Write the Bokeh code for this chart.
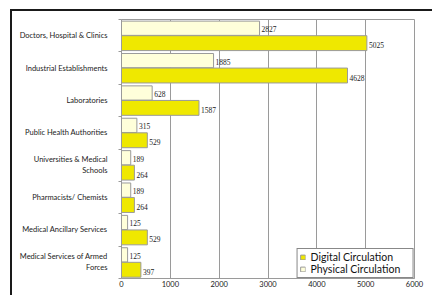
import numpy as np
from bokeh.plotting import figure
from bokeh.models import (ColumnDataSource, FixedTicker, Range1d,
                          Legend, LegendItem, LabelSet)
from bokeh.embed import file_html
from bokeh.resources import INLINE

categories = ["Doctors, Hospital & Clinics", "Industrial Establishments", "Laboratories",
              "Public Health Authorities", "Universities & Medical\nSchools",
              "Pharmacists/ Chemists", "Medical Ancillary Services",
              "Medical Services of Armed\nForces"]
physical = [2827, 1885, 628, 315, 189, 189, 125, 125]
digital = [5025, 4628, 1587, 529, 264, 264, 529, 397]
x_ticks = [0, 1000, 2000, 3000, 4000, 5000, 6000]

n = len(categories)
idx = np.arange(n)
centers = n - idx - 0.5
src = ColumnDataSource(dict(
    cat=categories,
    yp=centers + 0.23,
    yd=centers - 0.23,
    phys=physical,
    dig=digital,
    phys_t=[str(v) for v in physical],
    dig_t=[str(v) for v in digital],
))

FONT = "Lato"

p = figure(width=422, height=286, output_backend="svg", toolbar_location=None,
           x_range=Range1d(0, 6000), y_range=Range1d(0, n),
           min_border_left=109, min_border_right=20, min_border_top=8, min_border_bottom=19)
p.styles = {"margin-left": "10px", "margin-top": "9px",
            "border-left": "2px solid #1a1a1a", "border-top": "2px solid #1a1a1a"}
p.background_fill_color = "white"
p.border_fill_color = "white"
p.outline_line_color = "#9a9a9a"
p.outline_line_width = 1

rp = p.hbar(y="yp", right="phys", left=0, height=0.44, source=src,
            fill_color="#FFFFDA", line_color="#9a9a9a", line_width=1)
rd = p.hbar(y="yd", right="dig", left=0, height=0.46, source=src,
            fill_color="#EFE800", line_color="#9a9a9a", line_width=1)

lp = LabelSet(x="phys", y="yp", text="phys_t", source=src, x_offset=2, y_offset=-1,
              text_baseline="middle", text_font_size="7.5px", text_font=FONT, text_color="#1a1a1a")
ld = LabelSet(x="dig", y="yd", text="dig_t", source=src, x_offset=2, y_offset=-2,
              text_baseline="middle", text_font_size="7.5px", text_font=FONT, text_color="#1a1a1a")
p.add_layout(lp)
p.add_layout(ld)

p.xaxis.ticker = FixedTicker(ticks=x_ticks)
p.xaxis.major_tick_out = 0
p.xaxis.major_tick_in = 0
p.xaxis.minor_tick_out = 0
p.xaxis.minor_tick_in = 0
p.xaxis.axis_line_color = "#9a9a9a"
p.xaxis.major_label_text_font = FONT
p.xaxis.major_label_text_font_size = "7.5px"
p.xaxis.major_label_text_color = "#1a1a1a"
p.xaxis.major_label_standoff = 2

p.yaxis.ticker = FixedTicker(ticks=list(centers), minor_ticks=list(range(n + 1)))
p.yaxis.major_label_overrides = {float(c): lab for c, lab in zip(centers, categories)}
p.yaxis.major_tick_line_color = None
p.yaxis.minor_tick_out = 3
p.yaxis.minor_tick_in = 0
p.yaxis.minor_tick_line_color = "#9a9a9a"
p.yaxis.axis_line_color = "#9a9a9a"
p.yaxis.major_label_text_font = FONT
p.yaxis.major_label_text_font_size = "7.5px"
p.yaxis.major_label_text_color = "#1a1a1a"
p.yaxis.major_label_standoff = 8

p.xgrid.ticker = FixedTicker(ticks=x_ticks[1:])
p.xgrid.grid_line_color = "#9a9a9a"
p.ygrid.grid_line_color = None

legend = Legend(items=[LegendItem(label="Digital Circulation    ", renderers=[rd]),
                       LegendItem(label="Physical Circulation    ", renderers=[rp])],
                location="bottom_right", margin=0, padding=2, spacing=0,
                glyph_width=6, glyph_height=6, label_height=12,
                label_text_font=FONT, label_text_font_size="10.5px", label_standoff=5,
                label_text_color="#111111",
                border_line_color="#111111", border_line_width=1,
                background_fill_color="white", background_fill_alpha=1)
p.add_layout(legend)

open("out.html", "w").write(file_html(p, INLINE))
